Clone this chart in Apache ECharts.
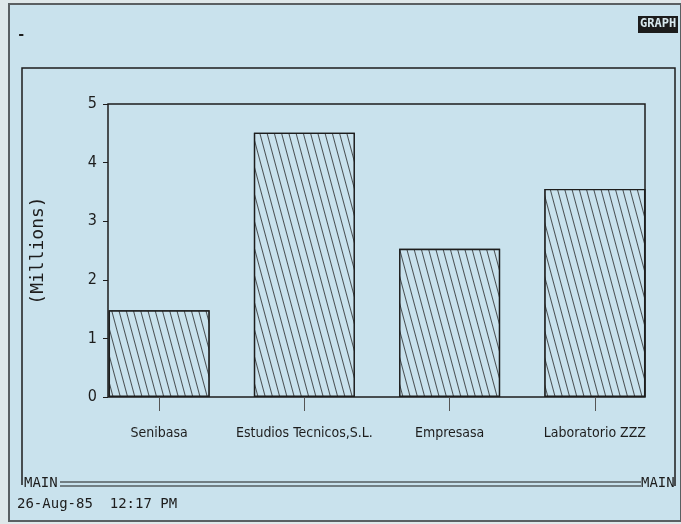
<!DOCTYPE html>
<html>
<head>
<meta charset="utf-8">
<script src="https://cdn.jsdelivr.net/npm/echarts@6/dist/echarts.min.js"></script>
<style>
  html, body { margin: 0; padding: 0; background: #dfe8ea; }
  #chart { width: 681px; height: 524px; }
</style>
</head>
<body>
<div id="chart"></div>
<script>
// company names on the x axis
const categories = ['Senibasa', 'Estudios Tecnicos,S.L.', 'Empresasa', 'Laboratorio ZZZ']
// sales, millions
const values = [1.48, 4.51, 2.53, 3.55]
const yTicks = [0, 1, 2, 3, 4, 5]

const screenBg = '#c9e2ed'
const ink = '#1d1d1d'
const narrow = '"Liberation Sans Narrow", "DejaVu Sans Condensed", "Liberation Sans", sans-serif'
const mono = '"DejaVu Sans Mono", "Liberation Mono", monospace'

const chart = echarts.init(document.getElementById('chart'))

chart.setOption({
  backgroundColor: '#dfe8ea',
  animation: false,
  aria: { enabled: true, decal: { show: true } },
  graphic: [
    // the monitor screen
    { type: 'rect', z: -10, silent: true,
      shape: { x: 9, y: 4, width: 672, height: 517 },
      style: { fill: screenBg, stroke: '#5a5f62', lineWidth: 2 } },
    // outer graph frame
    { type: 'polyline', silent: true,
      shape: { points: [[22, 485], [22, 68], [675, 68], [675, 486]] },
      style: { stroke: ink, lineWidth: 1.5, fill: null } },
    // MAIN double line
    { type: 'line', silent: true, shape: { x1: 60, y1: 482, x2: 641, y2: 482 },
      style: { stroke: ink, lineWidth: 1.2 } },
    { type: 'line', silent: true, shape: { x1: 60, y1: 486, x2: 641, y2: 486 },
      style: { stroke: ink, lineWidth: 1.2 } },
    { type: 'text', left: 24, top: 476,
      style: { text: 'MAIN', font: '14px ' + mono, fill: ink } },
    { type: 'text', left: 641, top: 476,
      style: { text: 'MAIN', font: '14px ' + mono, fill: ink } },
    { type: 'text', left: 17, top: 497,
      style: { text: '26-Aug-85  12:17 PM', font: '14px ' + mono, fill: ink } },
    { type: 'text', left: 17, top: 28,
      style: { text: '-', font: 'bold 14px ' + mono, fill: ink } },
    // GRAPH mode indicator
    { type: 'rect', silent: true, shape: { x: 638, y: 16, width: 40, height: 17 },
      style: { fill: '#1c1c1c' } },
    { type: 'text', left: 640, top: 18,
      style: { text: 'GRAPH', font: 'bold 12px ' + mono, fill: '#d8e8ee' } }
  ],
  grid: [
    // plot frame
    { left: 108, top: 104, width: 537, height: 293, show: true,
      borderColor: ink, borderWidth: 1.5, backgroundColor: 'transparent' },
    // bar grid, wider than the frame like the original screen
    { left: 86.5, top: 104, width: 581, height: 293 }
  ],
  xAxis: [
    { gridIndex: 0, type: 'value', show: false },
    {
      gridIndex: 1,
      type: 'category',
      data: categories,
      axisLine: { show: false },
      axisTick: { show: true, alignWithLabel: true, length: 14,
        lineStyle: { color: '#555', width: 1 } },
      axisLabel: { interval: 0, margin: 29, color: ink, fontFamily: narrow, fontSize: 14 }
    }
  ],
  yAxis: [
    {
      gridIndex: 0,
      type: 'value',
      min: 0,
      max: 5,
      interval: 1,
      name: '(Millions)',
      nameLocation: 'middle',
      nameRotate: 90,
      nameGap: 61,
      nameTextStyle: { color: ink, fontFamily: mono, fontSize: 18 },
      axisLine: { show: false },
      axisTick: { show: true, length: 5, lineStyle: { color: ink } },
      splitLine: { show: false },
      axisLabel: {
        margin: 11,
        color: ink,
        fontFamily: narrow,
        fontSize: 16,
        formatter: v => (yTicks.includes(v) ? String(v) : '')
      }
    },
    { gridIndex: 1, type: 'value', min: 0, max: 5, show: false }
  ],
  series: [
    {
      type: 'bar',
      xAxisIndex: 1,
      yAxisIndex: 1,
      data: values,
      barWidth: 101,
      itemStyle: {
        color: screenBg,
        borderColor: ink,
        borderWidth: 1.4,
        decal: {
          symbol: 'rect',
          symbolSize: 1,
          color: 'rgba(30,30,30,0.75)',
          backgroundColor: screenBg,
          dashArrayX: [1, 0],
          dashArrayY: [1, 6],
          rotation: 75 * Math.PI / 180
        }
      }
    }
  ]
})
</script>
</body>
</html>
